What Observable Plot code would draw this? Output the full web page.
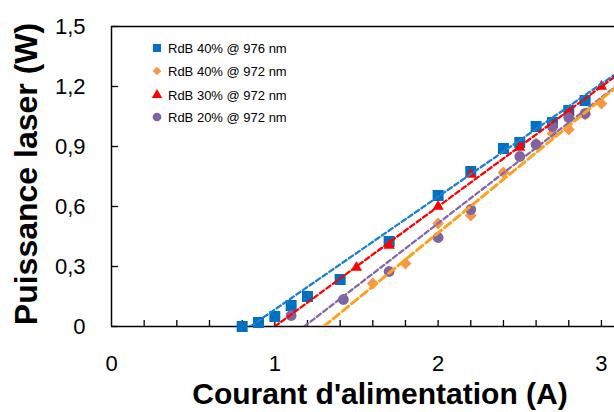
<!DOCTYPE html>
<html>
<head>
<meta charset="utf-8">
<script src="https://cdn.jsdelivr.net/npm/d3@7"></script>
<script src="https://cdn.jsdelivr.net/npm/@observablehq/plot@0.6"></script>
<style>
  html, body { margin: 0; padding: 0; background: #fff; }
  #chart { position: relative; width: 614px; height: 412px; }
  svg { font-family: "Liberation Sans", Arial, sans-serif; }
</style>
</head>
<body>
<div id="chart"></div>
<script>
// ---- data ----
const seriesNames = ["RdB 40% @ 976 nm", "RdB 40% @ 972 nm", "RdB 30% @ 972 nm", "RdB 20% @ 972 nm"];

const blue976X = [0.8, 0.9, 1.0, 1.1, 1.2, 1.4, 1.7, 2.0, 2.2, 2.4, 2.5, 2.6, 2.7, 2.8, 2.9];
const blue976Y = [0, 0.02, 0.05, 0.105, 0.15, 0.235, 0.425, 0.655, 0.775, 0.89, 0.92, 1.0, 1.02, 1.08, 1.13];

const orange972X = [1.6, 1.8, 2.0, 2.2, 2.4, 2.6, 2.7, 2.8, 2.9, 3.0];
const orange972Y = [0.215, 0.315, 0.515, 0.555, 0.77, 0.915, 0.965, 0.985, 1.06, 1.115];

const red972X = [1.5, 1.7, 2.0, 2.2, 2.5, 2.8, 3.0];
const red972Y = [0.295, 0.405, 0.60, 0.76, 0.895, 1.07, 1.2];

const purple972X = [1.1, 1.42, 1.7, 2.0, 2.2, 2.5, 2.6, 2.7, 2.8, 2.9];
const purple972Y = [0.055, 0.135, 0.275, 0.445, 0.585, 0.85, 0.91, 1.0, 1.045, 1.065];

// linear trend lines (start at threshold, end beyond the right edge)
const blueFitX = [0.85, 3.1],   blueFitY = [0, 1.27];
const orangeFitX = [1.30, 3.1], orangeFitY = [0, 1.204];
const redFitX = [1.0, 3.1],     redFitY = [0, 1.26];
const purpleFitX = [1.18, 3.1], purpleFitY = [0, 1.208];

const xTicks = [0, 1, 2, 3];
const xMinorTicks = [0.2, 0.4, 0.6, 0.8, 1.0, 1.2, 1.4, 1.6, 1.8, 2.0, 2.2, 2.4, 2.6, 2.8, 3.0];
const yTicks = [0, 0.3, 0.6, 0.9, 1.2, 1.5];
const yTickLabels = ["0", "0,3", "0,6", "0,9", "1,2", "1,5"];

const xTitle = "Courant d'alimentation (A)";
const yTitle = "Puissance laser (W)";

// ---- build tables ----
const pts = (xs, ys) => xs.map((x, i) => ({x, y: ys[i]}));
const blueData = pts(blue976X, blue976Y);
const orangeData = pts(orange972X, orange972Y);
const redData = pts(red972X, red972Y);
const purpleData = pts(purple972X, purple972Y);

const C = {
  blueM: "#0070C0", blueL: "#1A80D4",
  orangeM: "#F79646", orangeL: "#FFA11C",
  red: "#FF0000",
  purpleM: "#8064A2", purpleL: "#8468AC"
};

const fitLine = (xs, ys, stroke, w, dash) =>
  Plot.line(pts(xs, ys), {x: "x", y: "y", stroke, strokeWidth: w, strokeDasharray: dash, clip: true});

const plot = Plot.plot({
  width: 614,
  height: 412,
  marginLeft: 111,
  marginRight: 0,
  marginTop: 26,
  marginBottom: 86,
  style: {fontFamily: "'Liberation Sans', Arial, sans-serif", color: "#000", background: "#fff"},
  x: {domain: [0, 3.08]},
  y: {domain: [0, 1.5]},
  marks: [
    // axis ticks (inward) and labels
    Plot.axisY(yTicks, {tickSize: 7, dx: 7, tickFormat: () => "", label: null, strokeWidth: 1.3}),
    Plot.axisY(yTicks, {tickSize: 0, tickPadding: 26, fontSize: 22, tickFormat: d => yTickLabels[yTicks.indexOf(d)], label: null}),
    Plot.axisX(xMinorTicks, {tickSize: 6, dy: -6, tickFormat: () => "", label: null, strokeWidth: 1.3}),
    Plot.axisX(xTicks, {tickSize: 0, tickPadding: 29, fontSize: 22, tickFormat: d => String(d), label: null}),
    // frame
    Plot.ruleX([0], {stroke: "#000", strokeWidth: 1.5}),
    Plot.ruleY([0, 1.5], {stroke: "#000", strokeWidth: 1.5}),
    // markers
    Plot.dot(blueData, {x: "x", y: "y", symbol: "square", r: 6.2, fill: C.blueM}),
    Plot.dot(orangeData, {x: "x", y: "y", symbol: "diamond2", r: 5.3, fill: C.orangeM}),
    Plot.dot(redData, {x: "x", y: "y", symbol: "triangle", r: 4.2, fill: C.red}),
    Plot.dot(purpleData, {x: "x", y: "y", symbol: "circle", r: 5.4, fill: C.purpleM}),
    // trend lines
    fitLine(blueFitX, blueFitY, C.blueL, 2.3, "5,3"),
    fitLine(purpleFitX, purpleFitY, C.purpleL, 2.3, "5,3"),
    fitLine(orangeFitX, orangeFitY, C.orangeL, 3, "8,4"),
    fitLine(redFitX, redFitY, C.red, 2.3, "5,3")
  ]
});

document.getElementById("chart").appendChild(plot);

// ---- axis titles and legend ----
const svg = d3.select(plot);
svg.append("text")
  .attr("x", 380).attr("y", 404)
  .attr("text-anchor", "middle")
  .attr("font-size", 30).attr("font-weight", "bold").attr("fill", "#000")
  .text(xTitle);
svg.append("text")
  .attr("transform", "translate(37,174) rotate(-90)")
  .attr("text-anchor", "middle")
  .attr("font-size", 32).attr("font-weight", "bold").attr("fill", "#000")
  .text(yTitle);

const legendSymbols = [
  {sym: d3.symbolSquare, size: 64, fill: C.blueM},
  {sym: d3.symbolDiamond2, size: 48, fill: C.orangeM},
  {sym: d3.symbolTriangle, size: 48, fill: C.red},
  {sym: d3.symbolCircle, size: 60, fill: C.purpleM}
];
const legendRowY = [48, 71, 95, 117];
const lg = svg.append("g").attr("text-anchor", "start");
seriesNames.forEach((name, i) => {
  const s = legendSymbols[i];
  lg.append("path")
    .attr("transform", `translate(157,${legendRowY[i]})`)
    .attr("d", d3.symbol(s.sym, s.size)())
    .attr("fill", s.fill);
  lg.append("text")
    .attr("x", 168).attr("y", legendRowY[i])
    .attr("dy", "0.35em")
    .attr("text-anchor", "start")
    .attr("font-size", 13).attr("fill", "#000")
    .text(name);
});
</script>
</body>
</html>
